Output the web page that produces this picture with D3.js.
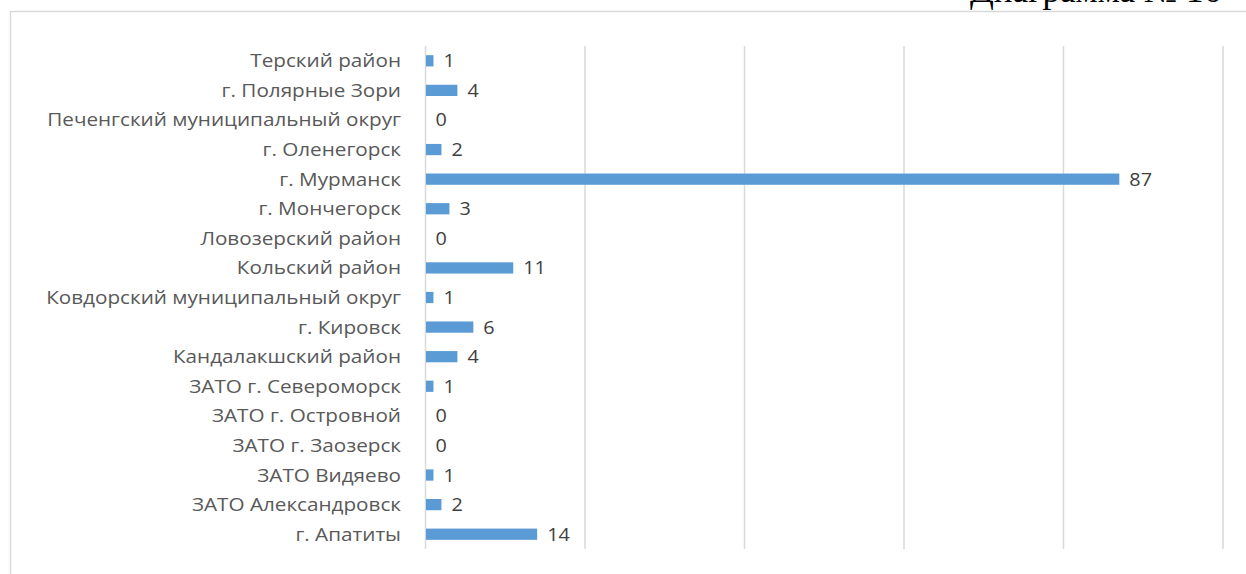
<!DOCTYPE html>
<html><head><meta charset="utf-8">
<script src="https://cdn.jsdelivr.net/npm/d3@7"></script>
<style>body{margin:0;background:#fff;overflow:hidden}</style>
</head><body>
<svg id="c" width="1246" height="574"></svg>
<script>
const categories = ["Терский район","г. Полярные Зори","Печенгский муниципальный округ","г. Оленегорск","г. Мурманск","г. Мончегорск","Ловозерский район","Кольский район","Ковдорский муниципальный округ","г. Кировск","Кандалакшский район","ЗАТО г. Североморск","ЗАТО г. Островной","ЗАТО г. Заозерск","ЗАТО Видяево","ЗАТО Александровск","г. Апатиты"];
const values = [1,4,0,2,87,3,0,11,1,6,4,1,0,0,1,2,14];
const xTicks = [0,20,40,60,80,100];
const title = "Диаграмма № 16";

const font = "'Open Sans', 'Segoe UI', sans-serif";
const svg = d3.select("#c");
// frame
svg.append("path").attr("d","M10.5,574 L10.5,11.5 L1246,11.5").attr("fill","none").attr("stroke","#d9d9d9").attr("stroke-width",1.5);
svg.append("text").attr("x",970).attr("y",2).attr("font-family","'Liberation Serif', 'Times New Roman', serif").attr("font-size",35).attr("fill","#000").text(title);

const x = d3.scaleLinear().domain([0,100]).range([425.5,1223]);
const y = d3.scaleBand().domain(categories).range([46,549]).paddingInner(0.62).paddingOuter(0.31);

svg.append("g").selectAll("line").data(xTicks).join("line")
  .attr("x1",d=>x(d)).attr("x2",d=>x(d)).attr("y1",46).attr("y2",549)
  .attr("stroke","#d9d9d9").attr("stroke-width",1.5);

svg.append("g").selectAll("rect").data(values).join("rect")
  .attr("x",x(0)+0.5).attr("y",(d,i)=>y(categories[i]))
  .attr("width",d=>Math.max(0,x(d)-x(0)-0.5)).attr("height",y.bandwidth())
  .attr("fill","#5b9bd5");

svg.append("g").selectAll("text").data(values).join("text")
  .attr("transform",(d,i)=>`translate(${x(d)+10},${y(categories[i])+y.bandwidth()/2}) scale(1.1,1)`)
  .attr("dy","0.36em").attr("font-family",font).attr("font-size",18)
  .attr("fill","#404040").text(d=>d);

svg.append("g").selectAll("text").data(categories).join("text")
  .attr("transform",d=>`translate(401,${y(d)+y.bandwidth()/2}) scale(1.15,1)`)
  .attr("dy","0.36em")
  .attr("text-anchor","end").attr("font-family",font).attr("font-size",18)
  .attr("fill","#595959").text(d=>d);
</script>
</body></html>
